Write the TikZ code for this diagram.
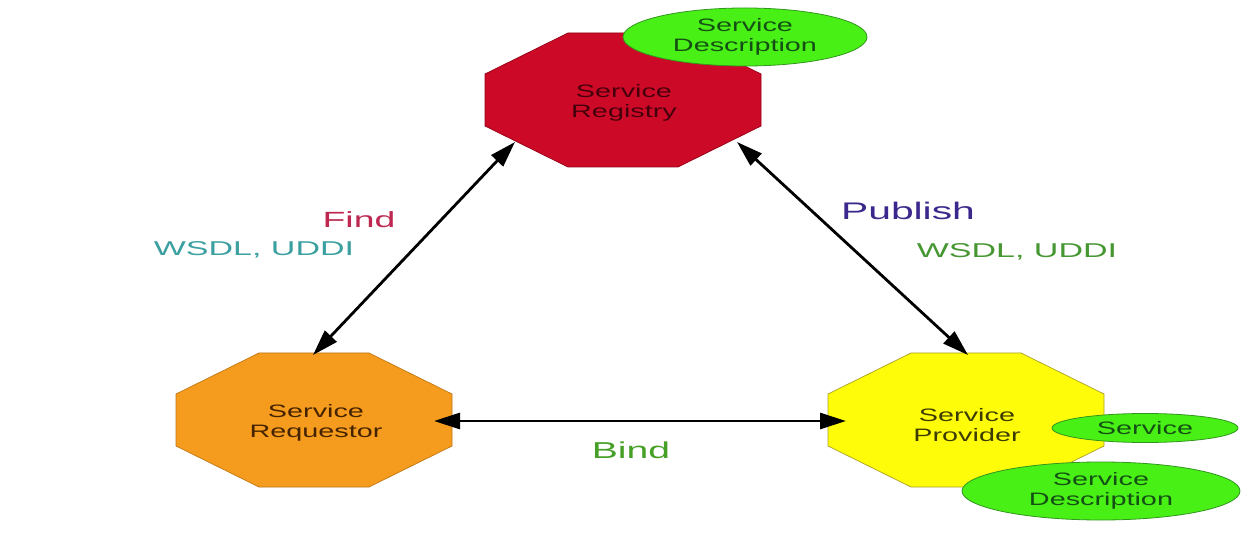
\documentclass[tikz,border=0pt]{standalone}
\usepackage{fontspec}
\newfontfamily\wf[FakeStretch=1.6]{Liberation Sans}
\newfontfamily\lf[FakeStretch=1.7]{Liberation Sans}
\usetikzlibrary{arrows.meta,shapes.geometric}
\definecolor{regfill}{RGB}{204,10,40}
\definecolor{regdraw}{RGB}{150,0,20}
\definecolor{regtext}{RGB}{70,0,12}
\definecolor{reqfill}{RGB}{245,156,30}
\definecolor{reqdraw}{RGB}{190,120,20}
\definecolor{reqtext}{RGB}{70,35,0}
\definecolor{provfill}{RGB}{255,252,10}
\definecolor{provdraw}{RGB}{170,160,40}
\definecolor{provtext}{RGB}{60,60,0}
\definecolor{ellfill}{RGB}{72,240,22}
\definecolor{elldraw}{RGB}{50,150,30}
\definecolor{elltext}{RGB}{20,80,20}
\definecolor{findcol}{RGB}{190,40,80}
\definecolor{tealcol}{RGB}{60,160,160}
\definecolor{pubcol}{RGB}{60,40,140}
\definecolor{greencol}{RGB}{70,150,50}
\definecolor{bindcol}{RGB}{70,160,40}
\tikzset{
  x=1pt, y=-1pt,
  octagon/.pic={
    \path[pic actions] (-55,-67) -- (55,-67) -- (138,-26) -- (138,26) -- (55,67) -- (-55,67) -- (-138,26) -- (-138,-26) -- cycle;
  },
  nodetext/.style={align=center, font=\wf\fontsize{18}{20}\selectfont},
  ellbox/.style={ellipse, draw=elldraw, fill=ellfill, line width=0.8pt, inner sep=0pt, align=center,
    text=elltext, font=\wf\fontsize{18}{20}\selectfont},
  lbl/.style={anchor=base, font=\lf\fontsize{22}{26}\selectfont},
  sublbl/.style={anchor=base, font=\lf\fontsize{20}{24}\selectfont},
  conn/.style={line width=2.8pt, {Triangle[length=26pt,width=16pt]}-{Triangle[length=26pt,width=16pt]}}
}
\begin{document}
\begin{tikzpicture}
\useasboundingbox (0,0) rectangle (1255,534);
\fill[white] (0,0) rectangle (1255,534);
% octagons
\pic[fill=regfill, draw=regdraw, line width=0.7pt] at (623,100) {octagon};
\pic[fill=reqfill, draw=reqdraw, line width=0.7pt] at (314,420) {octagon};
\pic[fill=provfill, draw=provdraw, line width=0.7pt] at (966,420) {octagon};
\node[nodetext, text=regtext] (reg) at (624,103) {Service\\Registry};
\node[nodetext, text=reqtext] (req) at (316,423) {Service\\Requestor};
\node[nodetext, text=provtext] (prov) at (967,425) {Service\\Provider};
% ellipses
\node[ellbox, minimum width=244pt, minimum height=58pt] (sd1) at (745,37) {Service\\Description};
\node[ellbox, minimum width=186pt, minimum height=29pt] (svc) at (1145,428) {Service};
\node[ellbox, minimum width=278pt, minimum height=58pt] (sd2) at (1101,491) {Service\\Description};
% connector end points
\coordinate (regSW) at (515,142);
\coordinate (regSE) at (737,142);
\coordinate (reqN) at (313,355);
\coordinate (reqE) at (434,421);
\coordinate (provN) at (968,355);
\coordinate (provW) at (846,421);
\draw[conn] (regSW) -- (reqN);
\draw[conn] (regSE) -- (provN);
\draw[conn] (reqE) -- (provW);
% labels
\node[lbl, text=findcol] (find) at (359,228) {Find};
\node[sublbl, text=tealcol] (w1) at (254,256) {WSDL, UDDI};
\node[lbl, text=pubcol, font=\lf\fontsize{24}{28}\selectfont] (pub) at (908,220) {Publish};
\node[sublbl, text=greencol] (w2) at (1017,258) {WSDL, UDDI};
\node[lbl, text=bindcol, font=\lf\fontsize{23}{27}\selectfont] (bind) at (631,458) {Bind};
\end{tikzpicture}
\end{document}
